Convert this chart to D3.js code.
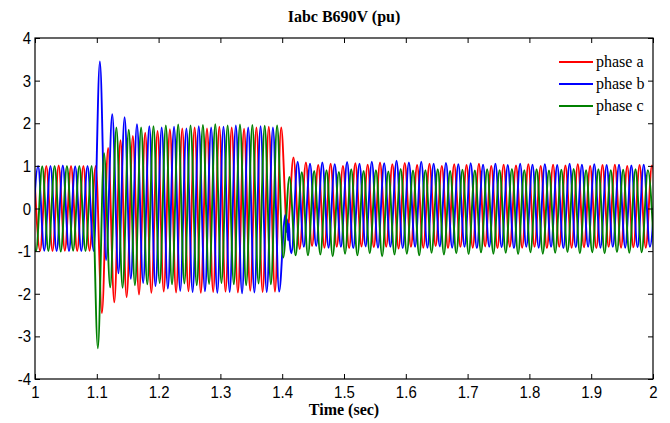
<!DOCTYPE html>
<html>
<head>
<meta charset="utf-8">
<script src="https://cdn.jsdelivr.net/npm/d3@7"></script>
<style>
  html, body { margin: 0; padding: 0; background: #fff; }
  svg { display: block; }
</style>
</head>
<body>
<script>
// ---------------- DATA ----------------
const seriesNames = ["phase a", "phase b", "phase c"];
const seriesColors = ["#ff0000", "#0000ff", "#008000"];
const xTickValues = [1, 1.1, 1.2, 1.3, 1.4, 1.5, 1.6, 1.7, 1.8, 1.9, 2];
const xTickLabels = ["1", "1.1", "1.2", "1.3", "1.4", "1.5", "1.6", "1.7", "1.8", "1.9", "2"];
const yTickValues = [-4, -3, -2, -1, 0, 1, 2, 3, 4];
const yTickLabels = ["-4", "-3", "-2", "-1", "0", "1", "2", "3", "4"];

// Time of the first read extremum of each phase (s) and the half-cycle spacing (50 Hz)
const startTimes = [0.9983, 0.995, 0.9917];
const halfCycle = 0.01;

// Successive peak / trough values (pu), one per half cycle
const phaseA = [1.0, -0.99, 1.0, -1.0, 1.01, -0.99, 1.0, -1.0, 1.0, -0.99,
  1.0, -2.45, 1.42, -2.2, 1.6, -2.08, 1.7, -2.02, 1.78, -1.98,
  1.82, -1.95, 1.86, -1.97, 1.88, -1.94, 1.9, -1.98, 1.88, -1.96,
  1.92, -1.95, 1.9, -1.97, 1.87, -1.93, 1.9, -1.96, 1.92, -1.95,
  1.9, -0.55, 1.2, -0.95, 1.08, -0.88, 1.02, -0.92, 1.05, -0.9,
  1.0, -0.93, 1.06, -0.89, 1.03, -0.91, 1.08, -0.9, 1.04, -0.94,
  1.07, -0.9, 1.02, -0.92, 1.05, -0.88, 1.0, -0.93, 1.04, -0.9,
  1.02, -0.92, 1.05, -0.89, 1.0, -0.93, 1.03, -0.9, 1.01, -0.92,
  1.04, -0.9, 1.0, -0.93, 1.03, -0.9, 1.01, -0.92, 1.04, -0.91,
  1.0, -0.93, 1.02, -0.9, 1.03, -0.92, 1.0, -0.91, 1.02, -0.92,
  1.01, -0.9];
const phaseB = [-1.0, 1.0, -0.99, 1.0, -1.0, 1.01, -1.0, 0.99, -1.0, 1.0,
  -1.0, 3.45, -1.21, 2.21, -1.52, 2.14, -1.65, 1.98, -1.75, 1.93,
  -1.82, 1.9, -1.88, 1.92, -1.93, 1.88, -1.96, 1.93, -1.94, 1.9,
  -1.98, 1.92, -1.96, 1.95, -1.99, 1.9, -1.97, 1.93, -1.96, 1.9,
  -1.95, -0.15, -1.05, 1.1, -0.9, 1.05, -0.88, 1.08, -0.92, 1.04,
  -0.9, 1.09, -0.93, 1.05, -0.89, 1.1, -0.92, 1.06, -0.9, 1.12,
  -0.93, 1.08, -0.9, 1.1, -0.92, 1.05, -0.89, 1.07, -0.92, 1.04,
  -0.9, 1.06, -0.93, 1.03, -0.9, 1.05, -0.91, 1.02, -0.93, 1.05,
  -0.9, 1.03, -0.92, 1.04, -0.9, 1.02, -0.93, 1.05, -0.91, 1.03,
  -0.9, 1.04, -0.92, 1.02, -0.9, 1.03, -0.92, 1.01, -0.91, 1.03,
  -0.9, 1.02];
const phaseC = [1.0, -1.0, 0.99, -1.0, 1.0, -1.01, 1.0, -0.99, 1.0, -1.0,
  1.0, -3.28, 1.3, -1.85, 1.9, -1.86, 1.85, -1.8, 1.9, -1.78,
  1.93, -1.75, 1.95, -1.78, 1.97, -1.76, 1.95, -1.8, 1.96, -1.77,
  1.98, -1.75, 1.95, -1.78, 1.97, -1.8, 1.96, -1.76, 1.94, -1.78,
  1.95, -1.15, 0.74, -1.1, 0.85, -1.1, 0.88, -1.08, 0.9, -1.12,
  0.86, -1.06, 0.92, -1.1, 0.88, -1.05, 0.9, -1.12, 0.87, -1.08,
  0.93, -1.06, 0.89, -1.1, 0.9, -1.04, 0.92, -1.08, 0.88, -1.05,
  0.91, -1.07, 0.89, -1.03, 0.92, -1.06, 0.9, -1.04, 0.93, -1.07,
  0.9, -1.03, 0.92, -1.06, 0.89, -1.04, 0.91, -1.02, 0.93, -1.05,
  0.9, -1.03, 0.92, -1.05, 0.9, -1.02, 0.91, -1.04, 0.92, -1.03,
  0.9, -1.02];

// Extra points of the high-frequency ripple of phase b right after the fault clears
const rippleBTimes = [1.4065, 1.408, 1.4095, 1.411, 1.4125];
const rippleBValues = [-0.55, -0.25, -0.75, -0.35, -0.85];

// ---------------- CHART ----------------
const W = 670, H = 423;
const L = 35, R = 653, T = 38, B = 379;

const svg = d3.select("body").append("svg")
  .attr("width", W).attr("height", H);

const x = d3.scaleLinear().domain([1, 2]).range([L, R]);
const y = d3.scaleLinear().domain([-4, 4]).range([B, T]);

svg.append("defs").append("clipPath").attr("id", "clip")
  .append("rect").attr("x", L).attr("y", T).attr("width", R - L).attr("height", B - T);

function buildSeries(vals, t0, extraT, extraV) {
  const pts = vals.map((v, i) => ({ t: t0 + i * halfCycle, v }));
  if (extraT) extraT.forEach((t, i) => pts.push({ t, v: extraV[i] }));
  pts.sort((a, b) => a.t - b.t);
  return pts;
}
const allSeries = [
  buildSeries(phaseA, startTimes[0]),
  buildSeries(phaseB, startTimes[1], rippleBTimes, rippleBValues),
  buildSeries(phaseC, startTimes[2])
];

const line = d3.line()
  .x(d => x(d.t)).y(d => y(d.v))
  .curve(d3.curveMonotoneX);

const plot = svg.append("g").attr("clip-path", "url(#clip)");
allSeries.forEach((s, i) => {
  plot.append("path")
    .datum(s)
    .attr("fill", "none")
    .attr("stroke", seriesColors[i])
    .attr("stroke-width", 1.9)
    .attr("stroke-linejoin", "round")
    .attr("d", line);
});

// Axes (MATLAB style: inward ticks on all four sides)
const tickFont = "'Liberation Sans', Arial, sans-serif";
const gx = svg.append("g").attr("transform", `translate(0,${B})`)
  .call(d3.axisBottom(x).tickValues(xTickValues)
    .tickFormat((d, i) => xTickLabels[i]).tickSize(-5).tickSizeOuter(0).tickPadding(6));
const gxt = svg.append("g").attr("transform", `translate(0,${T})`)
  .call(d3.axisTop(x).tickValues(xTickValues).tickFormat("").tickSize(-5).tickSizeOuter(0));
const gy = svg.append("g").attr("transform", `translate(${L},0)`)
  .call(d3.axisLeft(y).tickValues(yTickValues)
    .tickFormat((d, i) => yTickLabels[i]).tickSize(-5).tickSizeOuter(0).tickPadding(4));
const gyr = svg.append("g").attr("transform", `translate(${R},0)`)
  .call(d3.axisRight(y).tickValues(yTickValues).tickFormat("").tickSize(-5).tickSizeOuter(0));

[gx, gxt, gy, gyr].forEach(g => {
  g.select(".domain").remove();
  g.selectAll("line").attr("stroke", "#000");
  g.selectAll("text").attr("fill", "#000")
    .style("font-family", tickFont).style("font-size", "15px")
    .attr("transform", "scale(1,1.15)");
});

svg.append("rect")
  .attr("x", L).attr("y", T).attr("width", R - L).attr("height", B - T)
  .attr("fill", "none").attr("stroke", "#000").attr("stroke-width", 1.2);

// Title and axis label
const serif = "'Liberation Serif', 'Times New Roman', serif";
svg.append("text").attr("x", (L + R) / 2).attr("y", 22)
  .attr("text-anchor", "middle").style("font-family", serif)
  .style("font-weight", "bold").style("font-size", "16px")
  .text("Iabc B690V (pu)");
svg.append("text").attr("x", (L + R) / 2).attr("y", 415)
  .attr("text-anchor", "middle").style("font-family", serif)
  .style("font-weight", "bold").style("font-size", "16px")
  .text("Time (sec)");

// Legend
const legend = svg.append("g");
seriesNames.forEach((name, i) => {
  const ly = 62 + i * 22;
  legend.append("line").attr("x1", 559).attr("x2", 593)
    .attr("y1", ly).attr("y2", ly)
    .attr("stroke", seriesColors[i]).attr("stroke-width", 2);
  legend.append("text").attr("x", 596).attr("y", ly + 5)
    .style("font-family", serif).style("font-size", "16px")
    .text(name);
});
</script>
</body>
</html>
